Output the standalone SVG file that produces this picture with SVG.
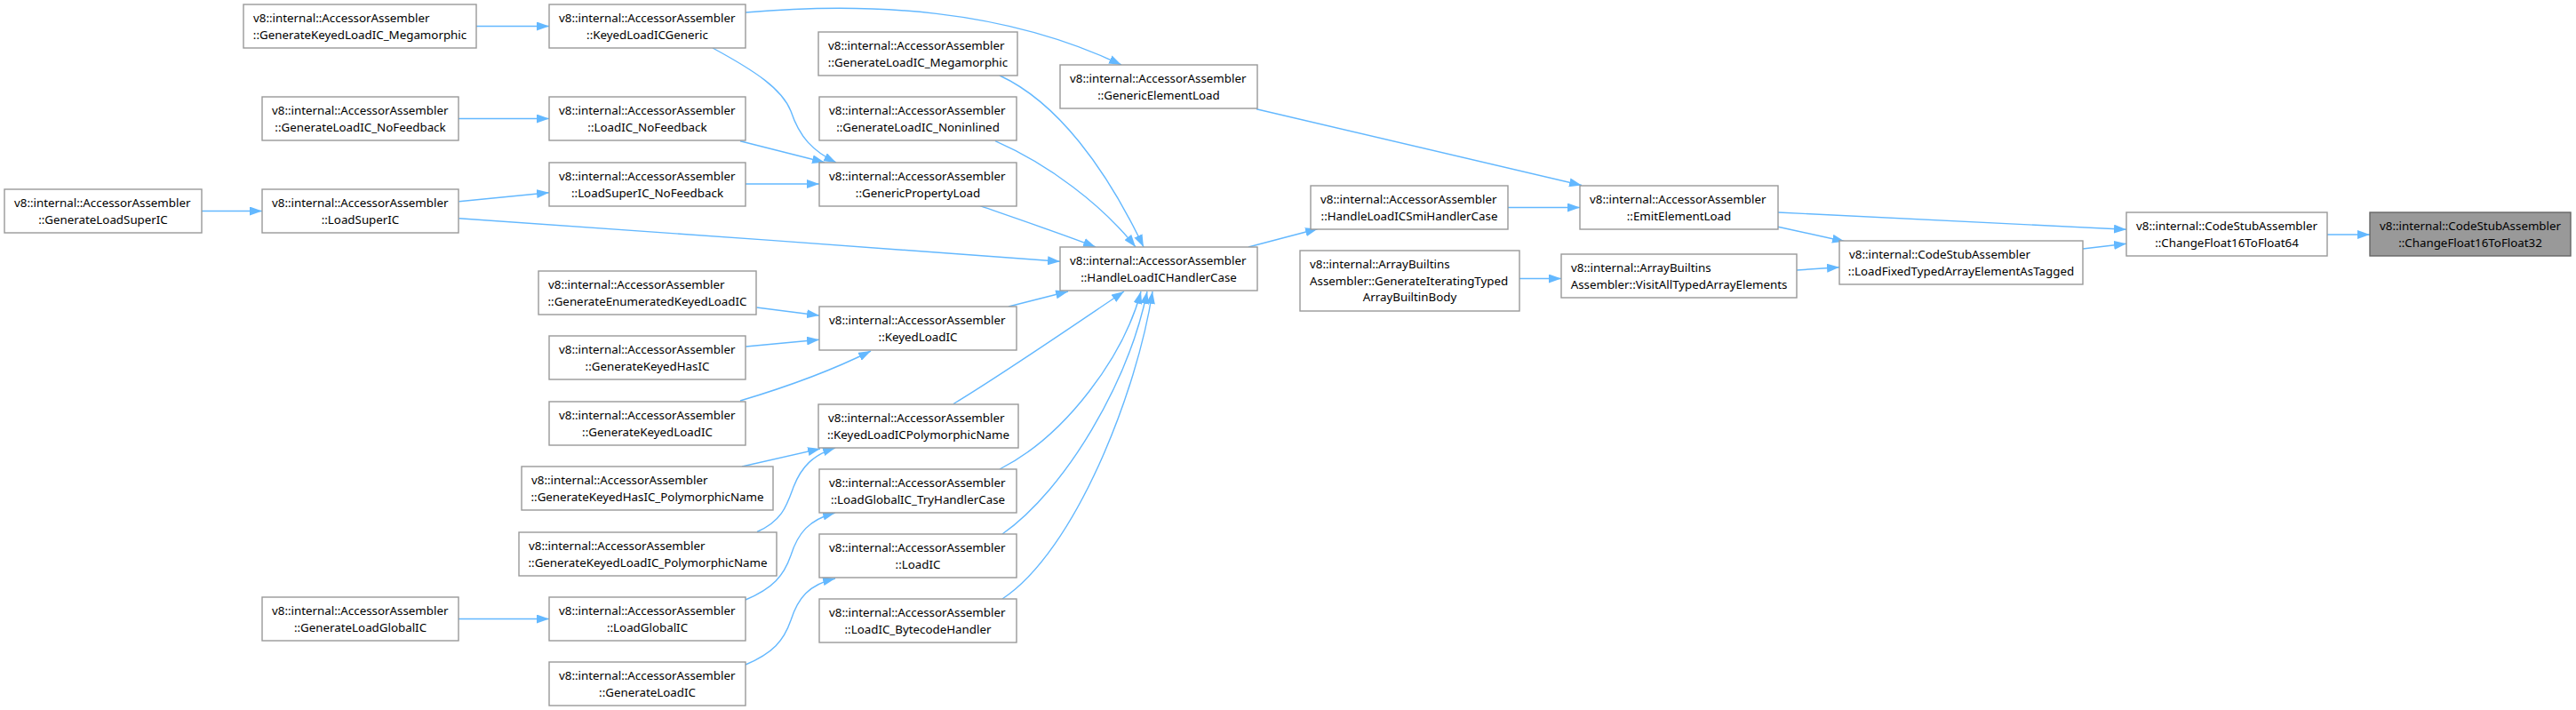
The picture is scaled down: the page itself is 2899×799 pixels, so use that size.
<svg xmlns="http://www.w3.org/2000/svg" width="2899" height="799" viewBox="0 0 2899 799">
<style>
.node rect{fill:#ffffff;stroke:#999999;stroke-width:1.4}
.node.hl rect{fill:#999999;stroke:#666666}
.node text{font-family:"Noto Sans","DejaVu Sans",sans-serif;font-size:13.33px;fill:#000000}
.node text.c{text-anchor:middle}
#edges path{fill:none;stroke:#63b8ff;stroke-width:1.4;marker-end:url(#ah)}
</style>
<defs>
<marker id="ah" viewBox="0 0 14 10" refX="14" refY="5" markerWidth="14" markerHeight="10" orient="auto" markerUnits="userSpaceOnUse">
<path d="M0,0 L14,5 L0,10 z" fill="#63b8ff"/>
</marker>
</defs>
<rect width="2899" height="799" fill="#ffffff"/>
<g id="edges">
<path d="M536,29.5 L618,29.5"/>
<path d="M839,14 C980,2 1130,10 1262,73"/>
<path d="M802,54 C850,80 880,100 890,125 C900,155 915,170 941,183"/>
<path d="M516,133.5 L618,133.5"/>
<path d="M833,158.7 L928,182.7"/>
<path d="M839,207 L922,207"/>
<path d="M227,237.5 L295,237.5"/>
<path d="M516.5,226.7 L618,216.7"/>
<path d="M516.5,245.7 C700,258 1000,280 1193,294.3"/>
<path d="M1125,85 C1190,115 1245,190 1287,278"/>
<path d="M1120,158.7 C1180,185 1240,230 1278,278"/>
<path d="M1103,231.7 C1150,248 1200,265 1233,278"/>
<path d="M1414,122.7 L1780,208.5"/>
<path d="M1697,233.5 L1778,233.5"/>
<path d="M1405,278 L1483,257.5"/>
<path d="M1135,345 L1202,328"/>
<path d="M851.5,346 L922,355"/>
<path d="M839.3,390 L922,382.3"/>
<path d="M833,451 C870,440 930,420 980,395"/>
<path d="M1073,454.5 C1130,420 1210,365 1265,328"/>
<path d="M835,525 L923,505"/>
<path d="M852,598.5 C880,586 885,570 893,548 C902,525 915,512 940,504"/>
<path d="M1125,528 C1200,490 1265,400 1284,328"/>
<path d="M1128,601 C1200,550 1270,430 1291,328"/>
<path d="M1128,674 C1210,620 1280,440 1297,328"/>
<path d="M516,696.5 L618,696.5"/>
<path d="M839,675 C870,662 882,648 890,625 C898,600 910,585 940,577"/>
<path d="M839,748 C870,735 882,721 890,698 C898,673 910,658 940,651"/>
<path d="M2001,239 L2393,258.3"/>
<path d="M2001,255.3 L2076,271.7"/>
<path d="M1710,313.5 L1757,313.5"/>
<path d="M2022,304 L2070,300.7"/>
<path d="M2344,280 L2393,274.3"/>
<path d="M2619,264 L2667,264"/>
</g>
<g id="n1" class="node"><rect x="274" y="5" width="262" height="49"/><text x="285" y="25">v8::internal::AccessorAssembler</text><text class="c" x="405" y="43.7">::GenerateKeyedLoadIC_Megamorphic</text></g>
<g id="n2" class="node"><rect x="618" y="5" width="221" height="49"/><text x="629" y="25">v8::internal::AccessorAssembler</text><text class="c" x="728.5" y="43.7">::KeyedLoadICGeneric</text></g>
<g id="n3" class="node"><rect x="295" y="109" width="221" height="49"/><text x="306" y="129">v8::internal::AccessorAssembler</text><text class="c" x="405.5" y="147.7">::GenerateLoadIC_NoFeedback</text></g>
<g id="n4" class="node"><rect x="618" y="109" width="221" height="49"/><text x="629" y="129">v8::internal::AccessorAssembler</text><text class="c" x="728.5" y="147.7">::LoadIC_NoFeedback</text></g>
<g id="n5" class="node"><rect x="618" y="183" width="221" height="49"/><text x="629" y="203">v8::internal::AccessorAssembler</text><text class="c" x="728.5" y="221.7">::LoadSuperIC_NoFeedback</text></g>
<g id="n6" class="node"><rect x="5" y="213" width="222" height="49"/><text x="16" y="233">v8::internal::AccessorAssembler</text><text class="c" x="116" y="251.7">::GenerateLoadSuperIC</text></g>
<g id="n7" class="node"><rect x="295" y="213" width="221" height="49"/><text x="306" y="233">v8::internal::AccessorAssembler</text><text class="c" x="405.5" y="251.7">::LoadSuperIC</text></g>
<g id="n8" class="node"><rect x="606" y="305" width="245" height="49"/><text x="617" y="325">v8::internal::AccessorAssembler</text><text class="c" x="728.5" y="343.7">::GenerateEnumeratedKeyedLoadIC</text></g>
<g id="n9" class="node"><rect x="618" y="378" width="221" height="49"/><text x="629" y="398">v8::internal::AccessorAssembler</text><text class="c" x="728.5" y="416.7">::GenerateKeyedHasIC</text></g>
<g id="n10" class="node"><rect x="618" y="452" width="221" height="49"/><text x="629" y="472">v8::internal::AccessorAssembler</text><text class="c" x="728.5" y="490.7">::GenerateKeyedLoadIC</text></g>
<g id="n11" class="node"><rect x="587" y="525" width="283" height="49"/><text x="598" y="545">v8::internal::AccessorAssembler</text><text class="c" x="728.5" y="563.7">::GenerateKeyedHasIC_PolymorphicName</text></g>
<g id="n12" class="node"><rect x="584" y="599" width="290" height="49"/><text x="595" y="619">v8::internal::AccessorAssembler</text><text class="c" x="729" y="637.7">::GenerateKeyedLoadIC_PolymorphicName</text></g>
<g id="n13" class="node"><rect x="295" y="672" width="221" height="49"/><text x="306" y="692">v8::internal::AccessorAssembler</text><text class="c" x="405.5" y="710.7">::GenerateLoadGlobalIC</text></g>
<g id="n14" class="node"><rect x="618" y="672" width="221" height="49"/><text x="629" y="692">v8::internal::AccessorAssembler</text><text class="c" x="728.5" y="710.7">::LoadGlobalIC</text></g>
<g id="n15" class="node"><rect x="618" y="745" width="221" height="49"/><text x="629" y="765">v8::internal::AccessorAssembler</text><text class="c" x="728.5" y="783.7">::GenerateLoadIC</text></g>
<g id="n16" class="node"><rect x="921" y="36" width="224" height="49"/><text x="932" y="56">v8::internal::AccessorAssembler</text><text class="c" x="1033" y="74.7">::GenerateLoadIC_Megamorphic</text></g>
<g id="n17" class="node"><rect x="922" y="109" width="222" height="49"/><text x="933" y="129">v8::internal::AccessorAssembler</text><text class="c" x="1033" y="147.7">::GenerateLoadIC_Noninlined</text></g>
<g id="n18" class="node"><rect x="922" y="183" width="222" height="49"/><text x="933" y="203">v8::internal::AccessorAssembler</text><text class="c" x="1033" y="221.7">::GenericPropertyLoad</text></g>
<g id="n19" class="node"><rect x="1193" y="73" width="222" height="49"/><text x="1204" y="93">v8::internal::AccessorAssembler</text><text class="c" x="1304" y="111.7">::GenericElementLoad</text></g>
<g id="n20" class="node"><rect x="1193" y="278" width="222" height="49"/><text x="1204" y="298">v8::internal::AccessorAssembler</text><text class="c" x="1304" y="316.7">::HandleLoadICHandlerCase</text></g>
<g id="n21" class="node"><rect x="922" y="345" width="222" height="49"/><text x="933" y="365">v8::internal::AccessorAssembler</text><text class="c" x="1033" y="383.7">::KeyedLoadIC</text></g>
<g id="n22" class="node"><rect x="921" y="455" width="225" height="49"/><text x="932" y="475">v8::internal::AccessorAssembler</text><text class="c" x="1033.5" y="493.7">::KeyedLoadICPolymorphicName</text></g>
<g id="n23" class="node"><rect x="922" y="528" width="222" height="49"/><text x="933" y="548">v8::internal::AccessorAssembler</text><text class="c" x="1033" y="566.7">::LoadGlobalIC_TryHandlerCase</text></g>
<g id="n24" class="node"><rect x="922" y="601" width="222" height="49"/><text x="933" y="621">v8::internal::AccessorAssembler</text><text class="c" x="1033" y="639.7">::LoadIC</text></g>
<g id="n25" class="node"><rect x="922" y="674" width="222" height="49"/><text x="933" y="694">v8::internal::AccessorAssembler</text><text class="c" x="1033" y="712.7">::LoadIC_BytecodeHandler</text></g>
<g id="n26" class="node"><rect x="1475" y="209" width="222" height="49"/><text x="1486" y="229">v8::internal::AccessorAssembler</text><text class="c" x="1586" y="247.7">::HandleLoadICSmiHandlerCase</text></g>
<g id="n27" class="node"><rect x="1463" y="282" width="247" height="68"/><text x="1474" y="302">v8::internal::ArrayBuiltins</text><text x="1474" y="320.7">Assembler::GenerateIteratingTyped</text><text class="c" x="1586.5" y="339.4">ArrayBuiltinBody</text></g>
<g id="n28" class="node"><rect x="1778" y="209" width="223" height="49"/><text x="1789" y="229">v8::internal::AccessorAssembler</text><text class="c" x="1889.5" y="247.7">::EmitElementLoad</text></g>
<g id="n29" class="node"><rect x="1757" y="286" width="265" height="49"/><text x="1768" y="306">v8::internal::ArrayBuiltins</text><text class="c" x="1889.5" y="324.7">Assembler::VisitAllTypedArrayElements</text></g>
<g id="n30" class="node"><rect x="2070" y="271" width="274" height="49"/><text x="2081" y="291">v8::internal::CodeStubAssembler</text><text class="c" x="2207" y="309.7">::LoadFixedTypedArrayElementAsTagged</text></g>
<g id="n31" class="node"><rect x="2393" y="239" width="226" height="49"/><text x="2404" y="259">v8::internal::CodeStubAssembler</text><text class="c" x="2506" y="277.7">::ChangeFloat16ToFloat64</text></g>
<g id="n32" class="node hl"><rect x="2667" y="239" width="226" height="49"/><text x="2678" y="259">v8::internal::CodeStubAssembler</text><text class="c" x="2780" y="277.7">::ChangeFloat16ToFloat32</text></g>
</svg>
